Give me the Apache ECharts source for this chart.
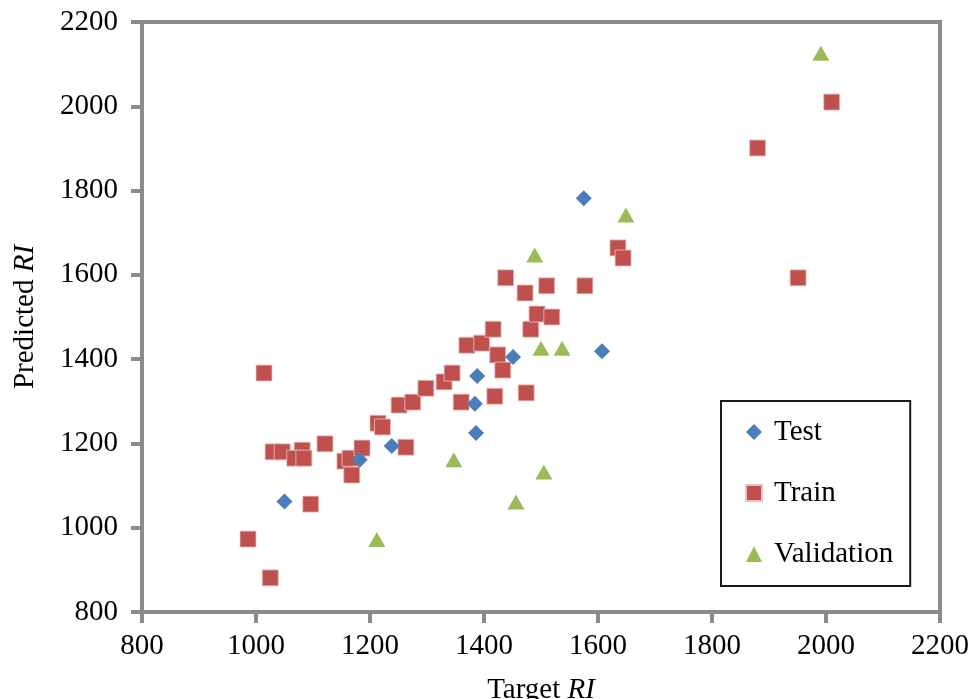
<!DOCTYPE html>
<html>
<head>
<meta charset="utf-8">
<title>Predicted vs Target RI</title>
<script src="https://cdn.jsdelivr.net/npm/echarts@6/dist/echarts.min.js"></script>
<style>
  html, body { margin: 0; padding: 0; background: #ffffff; }
  #chart { width: 975px; height: 699px; }
</style>
</head>
<body>
<div id="chart"></div>
<script>
// [target RI, predicted RI]
const testPoints = [
  [1050, 1062], [1182, 1161], [1238, 1194], [1386, 1225], [1384, 1294],
  [1388, 1360], [1451, 1405], [1575, 1782], [1607, 1419]
]
const trainPoints = [
  [986, 973], [1025, 881], [1014, 1367], [1030, 1180], [1046, 1180],
  [1081, 1184], [1068, 1165], [1084, 1165], [1096, 1056], [1121, 1199],
  [1156, 1158], [1165, 1165], [1168, 1125], [1186, 1189], [1214, 1248],
  [1222, 1239], [1251, 1291], [1263, 1191], [1275, 1298], [1298, 1331],
  [1330, 1346], [1344, 1367], [1360, 1298], [1370, 1433], [1396, 1438],
  [1416, 1471], [1419, 1312], [1424, 1410], [1433, 1374], [1438, 1593],
  [1472, 1557], [1474, 1320], [1482, 1471], [1493, 1507], [1510, 1574],
  [1519, 1500], [1577, 1574], [1635, 1664], [1644, 1640], [1880, 1901],
  [1951, 1593], [2010, 2010]
]
const validationPoints = [
  [1212, 972], [1347, 1161], [1456, 1061], [1489, 1647], [1500, 1426],
  [1505, 1132], [1537, 1426], [1649, 1742], [1991, 2126]
]
const axisMin = 800
const axisMax = 2200
const axisStep = 200

const gray = '#8c8c8c'
const serif = '"Liberation Serif", "Times New Roman", serif'

const chart = echarts.init(document.getElementById('chart'))

const axisCommon = {
  type: 'value',
  min: axisMin,
  max: axisMax,
  interval: axisStep,
  splitLine: { show: false },
  axisLine: { show: true, lineStyle: { color: gray, width: 4 } },
  axisTick: { show: true, length: 11, lineStyle: { color: gray, width: 4 } },
  axisLabel: { color: '#000', fontFamily: serif, fontSize: 29, formatter: v => String(v) },
  nameLocation: 'middle'
}

const nameRich = {
  n: { fontFamily: serif, fontSize: 29, color: '#000' },
  i: { fontFamily: serif, fontSize: 29, color: '#000', fontStyle: 'italic' }
}

chart.setOption({
  animation: false,
  grid: {
    left: 142, right: 35, top: 22, bottom: 87,
    containLabel: false,
    outerBoundsMode: 'none',
    show: true, borderColor: gray, borderWidth: 4, backgroundColor: '#fff'
  },
  legend: {
    orient: 'vertical',
    left: 721,
    top: 401,
    padding: [16, 17, 17, 24],
    itemGap: 31,
    itemWidth: 16,
    itemHeight: 16,
    borderColor: '#1a1a1a',
    borderWidth: 2,
    backgroundColor: '#fff',
    textStyle: { color: '#000', fontFamily: serif, fontSize: 29, lineHeight: 30, padding: [0, 0, 0, 7] },
    data: ['Test', 'Train', 'Validation']
  },
  xAxis: Object.assign({}, axisCommon, {
    name: '{n|Target }{i|RI}',
    nameGap: 64,
    axisLabel: Object.assign({}, axisCommon.axisLabel, { margin: 20 }),
    nameTextStyle: { rich: nameRich }
  }),
  yAxis: Object.assign({}, axisCommon, {
    name: '{n|Predicted }{i|RI}',
    nameGap: 102,
    axisLabel: Object.assign({}, axisCommon.axisLabel, { margin: 24 }),
    nameTextStyle: { rich: nameRich }
  }),
  series: [
    {
      name: 'Test',
      type: 'scatter',
      symbol: 'diamond',
      symbolSize: [16, 16],
      itemStyle: { color: '#4a7ebb', opacity: 1 },
      data: testPoints,
      z: 3
    },
    {
      name: 'Train',
      type: 'scatter',
      symbol: 'rect',
      symbolSize: 16,
      itemStyle: { color: '#c0504d', opacity: 1, borderColor: '#e9c3c2', borderWidth: 0.8 },
      data: trainPoints,
      z: 2
    },
    {
      name: 'Validation',
      type: 'scatter',
      symbol: 'triangle',
      symbolSize: [17, 15],
      itemStyle: { color: '#9bbb59', opacity: 1 },
      data: validationPoints,
      z: 2
    }
  ]
})
</script>
</body>
</html>
